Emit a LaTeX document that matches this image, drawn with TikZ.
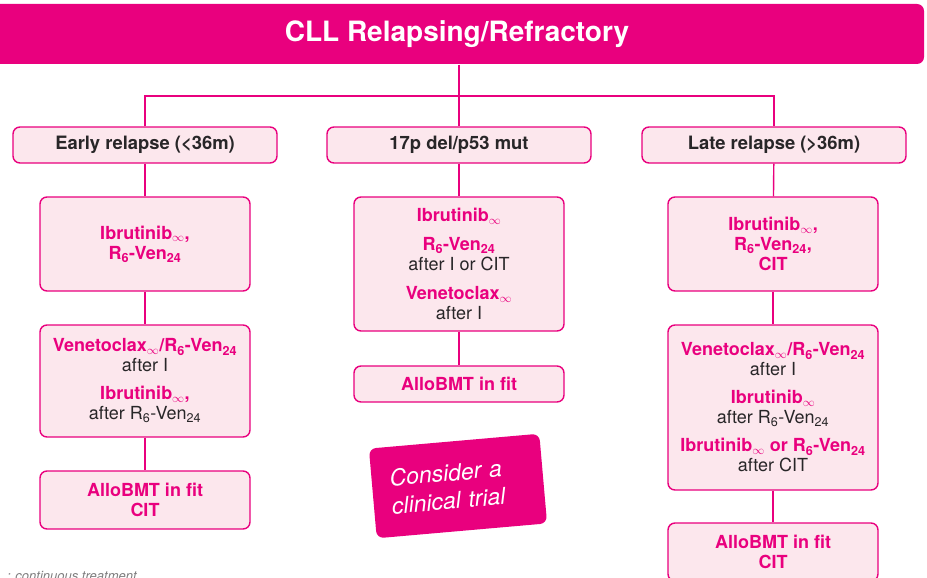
\documentclass[tikz,border=0pt]{standalone}
\usepackage{fontspec}
\setmainfont{TeX Gyre Heros}
\usepackage{tikz}
\usetikzlibrary{shapes}
\usetikzlibrary{positioning}
\definecolor{cllpink}{RGB}{233,0,126}
\definecolor{cllfill}{RGB}{252,231,237}
\definecolor{cllgrey}{RGB}{40,38,40}
\tikzstyle{banner}=[rectangle,rounded corners=7pt,fill=cllpink,text=white,font=\bfseries\fontsize{28}{32}\selectfont,minimum width=934pt,minimum height=60pt,inner sep=0pt]
\tikzstyle{branch}=[rectangle,rounded corners=7pt,draw=cllpink,fill=cllfill,text=cllgrey,font=\bfseries\fontsize{18.4}{21}\selectfont,minimum width=264pt,minimum height=36pt,inner sep=0pt]
\tikzstyle{option}=[rectangle,rounded corners=7pt,draw=cllpink,fill=cllfill,text=cllgrey,font=\fontsize{18}{20}\selectfont,align=center,minimum width=210pt,inner sep=0pt]
\tikzstyle{trial}=[rectangle,rounded corners=7pt,fill=cllpink,text=white,font=\itshape\fontsize{23}{28}\selectfont,align=left,text width=135pt,minimum width=171pt,minimum height=90pt,inner sep=0pt]
\tikzstyle{link}=[draw=cllpink,line width=1.4pt]
\newcommand{\drug}[1]{{\bfseries\color{cllpink}#1}}
\newcommand{\cont}{\textsubscript{$\infty$}}
\newcommand{\rven}{R\textsubscript{6}-Ven\textsubscript{24}}
\tikzset{every picture/.style={
    line width=1.4pt
  }
}

\begin{document}
\begin{tikzpicture}[x=1pt,y=-1pt]
    \useasboundingbox (0,0) rectangle (927,578);
    \node[banner] at (457,34) (cll) {CLL Relapsing/Refractory};
    % the three branches
    \node[branch] at (145,145) (early) {Early relapse (<36m)};
    \node[branch] at (459,145) (p53) {17p del/p53 mut};
    \node[branch] at (774,145) (late) {Late relapse (>36m)};
    \coordinate (fork) at (459,96);
    \draw[link] (cll.south -| fork) -- (p53);
    \draw[link] (early.north) |- (fork) -| (late.north);
    % early relapse
    \node[option,minimum height=94pt] at (145,244) (e1) {\drug{Ibrutinib\cont,}\\ \drug{\rven}};
    \node[option,minimum height=112pt] at (145,381) (e2) {\drug{Venetoclax\cont/\rven}\\ after I\\[8pt] \drug{Ibrutinib\cont,}\\ after \rven};
    \node[option,minimum height=58pt] at (145,500) (e3) {\drug{AlloBMT in fit}\\ \drug{CIT}};
    \draw[link] (early) -- (e1);
    \draw[link] (e1) -- (e2);
    \draw[link] (e2) -- (e3);
    % 17p del
    \node[option,minimum height=134pt] at (459,264) (p1) {\drug{Ibrutinib\cont}\\[9pt] \drug{\rven}\\ after I or CIT\\[9pt] \drug{Venetoclax\cont}\\ after I};
    \node[option,minimum height=36pt] at (459,384) (p2) {\drug{AlloBMT in fit}};
    \draw[link] (p53) -- (p1);
    \draw[link] (p1) -- (p2);
    % late relapse
    \node[option,minimum height=94pt] at (773,244) (l1) {\drug{Ibrutinib\cont,}\\ \drug{\rven,}\\ \drug{CIT}};
    \node[option,minimum height=165pt] at (773,407.5) (l2) {\drug{Venetoclax\cont/\rven}\\ after I\\[8pt] \drug{Ibrutinib\cont}\\ after \rven\\[8pt] \drug{Ibrutinib\cont{} or \rven}\\ after CIT};
    \node[option,minimum height=58pt] at (773,552) (l3) {\drug{AlloBMT in fit}\\ \drug{CIT}};
    \draw[link] (late) -- (l1);
    \draw[link] (l1) -- (l2);
    \draw[link] (l2) -- (l3);
    \node[trial,rotate=5] at (458,486) (ct) {Consider a\\ clinical trial};
    \node[anchor=base west,text=cllgrey!60,font=\itshape\fontsize{13}{15}\selectfont] at (3,580) (note) {: continuous treatment};
  \end{tikzpicture}
\end{document}
